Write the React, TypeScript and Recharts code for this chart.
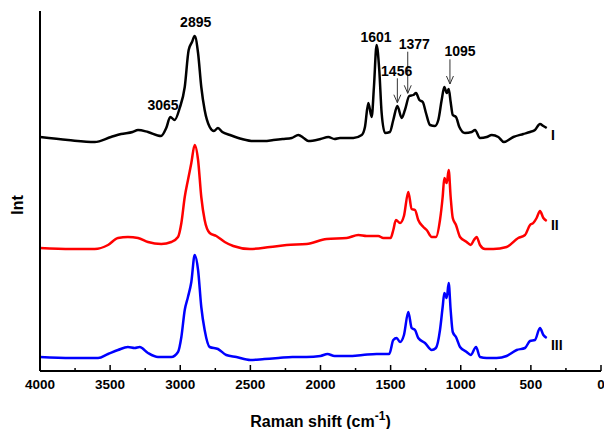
import {
  LineChart,
  Line,
  XAxis,
  YAxis,
  ReferenceDot,
  ReferenceLine,
} from "recharts";

// Raman shift (cm-1) and intensity (offset, arbitrary units) for each spectrum
const SHIFT_I = [4000, 3800, 3610, 3494, 3422, 3340, 3301, 3230, 3137, 3100, 3071, 3040, 3004, 2968, 2940, 2916, 2897, 2873, 2850, 2826, 2790, 2760, 2731, 2700, 2645, 2560, 2479, 2400, 2336, 2270, 2205, 2158, 2120, 2087, 2000, 1944, 1900, 1861, 1766, 1706, 1683, 1659, 1635, 1619, 1600, 1581, 1564, 1540, 1505, 1481, 1452, 1421, 1398, 1367, 1338, 1319, 1295, 1271, 1248, 1219, 1184, 1160, 1136, 1117, 1100, 1086, 1072, 1057, 1034, 1010, 970, 922, 898, 863, 815, 779, 732, 692, 625, 554, 506, 471, 435, 411, 387];
const INT_I = [234, 231, 229, 234, 237, 239, 241, 239, 235, 243, 254, 251, 263, 284, 321, 329, 335, 318, 284, 261, 244, 240, 243, 239, 236, 232, 230, 230, 231, 232, 233, 236, 233, 230, 232, 234, 232, 233, 233, 236, 244, 268, 254, 284, 326, 301, 258, 238, 239, 251, 265, 253, 261, 275, 276, 278, 271, 269, 258, 246, 245, 251, 271, 284, 278, 282, 269, 256, 254, 244, 238, 239, 241, 233, 234, 236, 234, 229, 234, 237, 239, 241, 247, 245, 243];

const SHIFT_II = [4000, 3777, 3610, 3515, 3444, 3373, 3301, 3230, 3135, 3064, 3016, 2992, 2968, 2945, 2921, 2897, 2873, 2850, 2826, 2790, 2743, 2683, 2622, 2503, 2360, 2241, 2099, 1956, 1813, 1730, 1671, 1588, 1552, 1500, 1481, 1462, 1433, 1405, 1374, 1350, 1326, 1303, 1267, 1243, 1207, 1177, 1148, 1129, 1117, 1100, 1086, 1072, 1057, 1034, 1005, 958, 929, 906, 887, 863, 827, 768, 673, 590, 542, 506, 483, 459, 435, 411, 387];
const INT_II = [123, 122, 122, 126, 133, 134, 133, 129, 127, 129, 134, 148, 174, 191, 208, 226, 211, 174, 151, 138, 135, 129, 125, 122, 124, 126, 127, 132, 133, 136, 135, 135, 133, 133, 141, 151, 148, 155, 179, 162, 161, 151, 144, 141, 134, 134, 151, 174, 193, 188, 201, 174, 153, 146, 134, 129, 126, 131, 134, 126, 122, 122, 124, 133, 136, 146, 148, 153, 160, 153, 150];

const SHIFT_III = [4000, 3777, 3586, 3515, 3444, 3373, 3325, 3289, 3230, 3159, 3064, 3016, 2992, 2968, 2945, 2921, 2897, 2873, 2850, 2826, 2790, 2731, 2672, 2600, 2500, 2400, 2300, 2200, 2100, 2000, 1950, 1900, 1800, 1700, 1600, 1510, 1481, 1457, 1433, 1405, 1374, 1350, 1326, 1303, 1255, 1207, 1177, 1148, 1129, 1117, 1100, 1086, 1072, 1057, 1034, 1005, 958, 929, 891, 863, 815, 744, 673, 601, 542, 506, 471, 435, 411, 387];
const INT_III = [14, 13, 13, 17, 21, 24, 23, 24, 18, 14, 14, 19, 34, 61, 74, 89, 116, 101, 64, 41, 24, 22, 16, 14, 11, 12, 13, 14, 14, 15, 17, 15, 15, 16, 17, 17, 31, 33, 29, 36, 59, 43, 41, 33, 28, 21, 23, 41, 64, 78, 73, 88, 61, 39, 34, 24, 19, 16, 24, 14, 13, 13, 15, 21, 23, 30, 31, 43, 36, 33];

const X_TICKS = [4000, 3750, 3500, 3250, 3000, 2750, 2500, 2250, 2000, 1750, 1500, 1250, 1000, 750, 500, 250, 0];

// peak annotations: text, anchor shift, anchor intensity
const PEAK_TEXT = ["2895", "3065", "1601", "1456", "1377", "1095"];
const PEAK_X = [2890, 3123, 1604, 1457, 1331, 1005];
const PEAK_Y = [344, 261, 329.5, 295, 322, 315];

// arrows: shift, tail intensity, tip intensity
const ARROW_X = [1452, 1378, 1077];
const ARROW_FROM = [292.7, 319.3, 311.7];
const ARROW_TO = [268.3, 277.7, 287];

const SERIES_NAMES = ["I", "II", "III"];
const SERIES_LABEL_Y = [231, 141.5, 21.5];
const SERIES_LABEL_X = 357;

const toRows = (xs: number[], ys: number[]) => xs.map((x, i) => ({ x, y: ys[i] }));
const DATA_I = toRows(SHIFT_I, INT_I);
const DATA_II = toRows(SHIFT_II, INT_II);
const DATA_III = toRows(SHIFT_III, INT_III);

const FONT = "'Liberation Sans', Arial, sans-serif";

function XTick(props: any) {
  const { x, y, payload } = props;
  const major = payload.value % 500 === 0;
  return (
    <g>
      <line x1={x} y1={y} x2={x} y2={y - (major ? 6 : 3)} stroke="#000" strokeWidth={1.5} />
      {major && (
        <text x={x} y={y + 18} textAnchor="middle" fontFamily={FONT} fontWeight="bold" fontSize={13.5} fill="#000">
          {payload.value}
        </text>
      )}
    </g>
  );
}

function XTitle(props: any) {
  const { viewBox } = props;
  return (
    <text x={viewBox.x + viewBox.width / 2} y={427} textAnchor="middle" fontFamily={FONT} fontWeight="bold" fontSize={16} fill="#000">
      <tspan>Raman shift (cm</tspan>
      <tspan dy={-7} fontSize={12}>-1</tspan>
      <tspan dy={7}>)</tspan>
    </text>
  );
}

function YTitle() {
  return (
    <text x={23} y={205} transform="rotate(-90 23 205)" textAnchor="middle" fontFamily={FONT} fontWeight="bold" fontSize={16} fill="#000">
      Int
    </text>
  );
}

function textShape(label: string, anchor: string) {
  return (p: any) => (
    <text x={p.cx} y={p.cy} textAnchor={anchor} fontFamily={FONT} fontWeight="bold" fontSize={14} fill="#000">
      {label}
    </text>
  );
}

function arrowHead(p: any) {
  const { cx, cy } = p;
  return (
    <path d={`M${cx - 3.5},${cy - 8} L${cx},${cy} L${cx + 3.5},${cy - 8}`} fill="none" stroke="#333" strokeWidth={1} />
  );
}

export default function App() {
  return (
    <div style={{ position: "absolute", left: 0, top: 0, background: "#fff" }}>
      <LineChart width={604} height={429} margin={{ top: 11, right: 3, left: 0, bottom: 0 }}>
        <XAxis
          type="number"
          dataKey="x"
          domain={[0, 4000]}
          reversed
          ticks={X_TICKS}
          interval={0}
          height={58}
          tickSize={0}
          tickMargin={0}
          tickLine={false}
          tick={<XTick />}
          axisLine={{ stroke: "#000", strokeWidth: 2 }}
          label={<XTitle />}
        />
        <YAxis
          type="number"
          domain={[0, 360]}
          width={40}
          tick={false}
          tickLine={false}
          axisLine={{ stroke: "#000", strokeWidth: 2 }}
          label={<YTitle />}
        />
        <Line data={DATA_I} dataKey="y" type="monotone" stroke="#000000" strokeWidth={2.5} dot={false} isAnimationActive={false} />
        <Line data={DATA_II} dataKey="y" type="monotone" stroke="#ff0000" strokeWidth={2.5} dot={false} isAnimationActive={false} />
        <Line data={DATA_III} dataKey="y" type="monotone" stroke="#0000ff" strokeWidth={2.5} dot={false} isAnimationActive={false} />
        {PEAK_TEXT.map((t, i) => (
          <ReferenceDot key={t} x={PEAK_X[i]} y={PEAK_Y[i]} r={1} shape={textShape(t, "middle")} />
        ))}
        {ARROW_X.map((x, i) => (
          <ReferenceLine
            key={"a" + i}
            segment={[
              { x, y: ARROW_FROM[i] },
              { x, y: ARROW_TO[i] },
            ]}
            stroke="#333"
            strokeWidth={1}
          />
        ))}
        {ARROW_X.map((x, i) => (
          <ReferenceDot key={"h" + i} x={x} y={ARROW_TO[i]} r={1} shape={arrowHead} />
        ))}
        {SERIES_NAMES.map((n, i) => (
          <ReferenceDot key={n} x={SERIES_LABEL_X} y={SERIES_LABEL_Y[i]} r={1} shape={textShape(n, "start")} />
        ))}
      </LineChart>
    </div>
  );
}
